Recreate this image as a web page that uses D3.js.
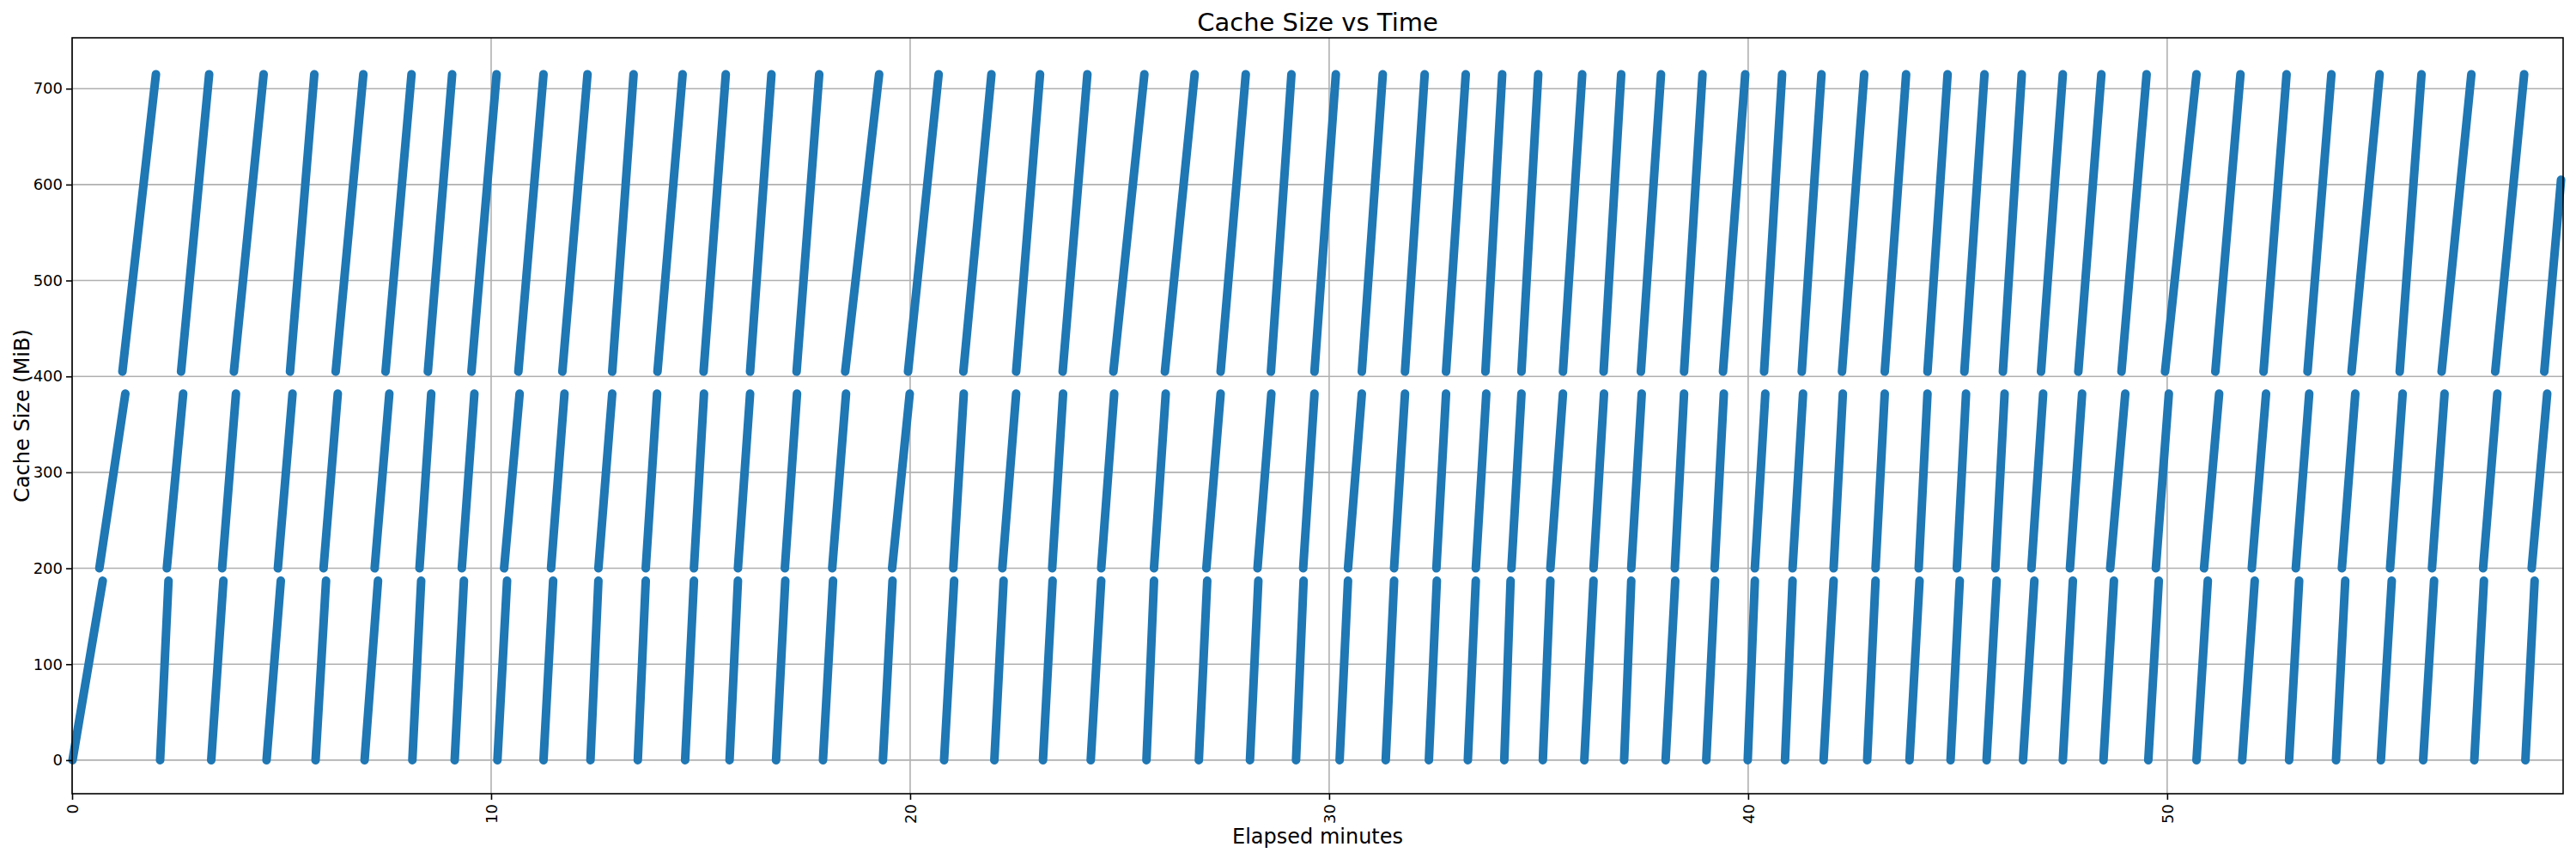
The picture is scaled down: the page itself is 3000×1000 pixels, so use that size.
<!DOCTYPE html>
<html>
<head>
<meta charset="utf-8">
<script src="https://cdn.jsdelivr.net/npm/d3@7"></script>
<style>
  body { margin: 0; background: #fff; }
  text { font-family: "DejaVu Sans", sans-serif; }
</style>
</head>
<body>
<script>
// each fill cycle rises through three bands: low, mid, high (MiB)
var bandLow = [0, 187];
var bandMid = [200, 382];
var bandHigh = [405, 715];
var lastHighValue = 605; // final cycle is cut off by the right edge

// elapsed minutes where each band starts / ends per cycle
var lowStart  = [0.01,2.10,3.32,4.64,5.81,6.98,8.12,9.13,10.15,11.25,12.37,13.50,14.63,15.69,16.80,17.92,19.35,20.81,22.01,23.17,24.31,25.64,26.89,28.11,29.21,30.25,31.35,32.38,33.31,34.18,35.10,36.09,37.04,38.03,39.00,39.99,40.88,41.80,42.84,43.85,44.83,45.69,46.56,47.51,48.48,49.55,50.70,51.79,52.91,54.03,55.10,56.11,57.33,58.55];
var lowEnd    = [0.73,2.30,3.61,4.98,6.06,7.30,8.33,9.35,10.38,11.48,12.56,13.69,14.84,15.89,17.02,18.16,19.58,21.05,22.23,23.40,24.56,25.82,27.09,28.31,29.39,30.45,31.55,32.57,33.50,34.33,35.28,36.31,37.21,38.26,39.21,40.16,41.06,42.04,43.04,44.09,45.05,45.93,46.83,47.75,48.73,49.80,50.97,52.09,53.15,54.25,55.36,56.37,57.56,58.77];
var midStart  = [0.65,2.26,3.58,4.91,6.00,7.22,8.29,9.30,10.31,11.43,12.56,13.69,14.84,15.89,17.01,18.14,19.57,21.03,22.20,23.39,24.56,25.82,27.07,28.29,29.38,30.45,31.55,32.56,33.50,34.35,35.28,36.31,37.21,38.25,39.20,40.16,41.06,42.04,43.04,44.07,44.98,45.90,46.76,47.68,48.64,49.73,50.88,52.02,53.07,54.17,55.32,56.32,57.54,58.70];
var midEnd    = [1.27,2.65,3.91,5.26,6.34,7.57,8.57,9.60,10.68,11.75,12.89,13.96,15.08,16.18,17.30,18.47,19.99,21.28,22.53,23.65,24.87,26.10,27.41,28.62,29.65,30.78,31.81,32.79,33.75,34.59,35.58,36.56,37.46,38.47,39.42,40.41,41.31,42.26,43.26,44.28,45.20,46.12,47.04,47.97,49.00,50.04,51.24,52.36,53.39,54.49,55.62,56.62,57.88,59.07];
var highStart = [1.20,2.60,3.86,5.20,6.29,7.48,8.49,9.53,10.65,11.70,12.89,13.97,15.07,16.18,17.29,18.45,19.95,21.27,22.53,23.64,24.85,26.08,27.41,28.61,29.65,30.78,31.81,32.79,33.73,34.59,35.58,36.55,37.44,38.47,39.40,40.38,41.28,42.24,43.26,44.28,45.16,46.08,46.99,47.88,48.91,49.95,51.15,52.30,53.35,54.40,55.55,56.55,57.83,59.00];
var highEnd   = [2.00,3.27,4.57,5.78,6.95,8.10,9.07,10.13,11.25,12.30,13.40,14.57,15.60,16.69,17.83,19.26,20.68,21.94,23.10,24.23,25.59,26.79,28.01,29.10,30.16,31.28,32.28,33.26,34.13,34.99,36.04,36.97,37.92,38.91,39.93,40.81,41.75,42.77,43.77,44.76,45.64,46.53,47.51,48.43,49.51,50.70,51.75,52.85,53.92,55.07,56.07,57.26,58.52,59.40];

var xTicks = [0, 10, 20, 30, 40, 50];
var yTicks = [0, 100, 200, 300, 400, 500, 600, 700];

var W = 3000, H = 1000;
var m = { left: 84, right: 15, top: 44, bottom: 76 };

var svg = d3.select("body").append("svg")
  .attr("width", W).attr("height", H);

var x = d3.scaleLinear().domain([0, 59.45]).range([m.left, W - m.right]);
var y = d3.scaleLinear().domain([-35, 753]).range([H - m.bottom, m.top]);

// grid
svg.append("g").selectAll("line").data(xTicks).enter().append("line")
  .attr("x1", d => x(d)).attr("x2", d => x(d))
  .attr("y1", m.top).attr("y2", H - m.bottom)
  .attr("stroke", "#b0b0b0").attr("stroke-width", 1.6);
svg.append("g").selectAll("line").data(yTicks).enter().append("line")
  .attr("x1", m.left).attr("x2", W - m.right)
  .attr("y1", d => y(d)).attr("y2", d => y(d))
  .attr("stroke", "#b0b0b0").attr("stroke-width", 1.6);

// build ramps from the arrays
var ramps = [];
lowStart.forEach(function(s, i) {
  ramps.push([[s, bandLow[0]], [lowEnd[i], bandLow[1]]]);
  ramps.push([[midStart[i], bandMid[0]], [midEnd[i], bandMid[1]]]);
  var top = i === lowStart.length - 1 ? lastHighValue : bandHigh[1];
  ramps.push([[highStart[i], bandHigh[0]], [highEnd[i], top]]);
});

var line = d3.line().x(d => x(d[0])).y(d => y(d[1]));
svg.append("g").selectAll("path").data(ramps).enter().append("path")
  .attr("d", line)
  .attr("fill", "none")
  .attr("stroke", "#1f77b4")
  .attr("stroke-width", 10)
  .attr("stroke-linecap", "round");

// clip-free frame
svg.append("rect")
  .attr("x", m.left).attr("y", m.top)
  .attr("width", W - m.left - m.right).attr("height", H - m.top - m.bottom)
  .attr("fill", "none").attr("stroke", "#000").attr("stroke-width", 1.6);

// axes
var xAxis = svg.append("g")
  .attr("transform", "translate(0," + (H - m.bottom) + ")")
  .call(d3.axisBottom(x).tickValues(xTicks).tickSize(7).tickFormat(d3.format("d")));
xAxis.selectAll("text")
  .attr("transform", "rotate(-90)")
  .attr("x", -12).attr("y", 0).attr("dy", "0.35em")
  .style("text-anchor", "end")
  .style("font-size", "18px");

var yAxis = svg.append("g")
  .attr("transform", "translate(" + m.left + ",0)")
  .call(d3.axisLeft(y).tickValues(yTicks).tickSize(7));
yAxis.selectAll("text").style("font-size", "18px").attr("x", -11);

[xAxis, yAxis].forEach(function(a) {
  a.select(".domain").remove();
  a.selectAll("line").attr("stroke", "#000").attr("stroke-width", 1.6);
  a.selectAll("text").attr("fill", "#000").style("font-family", "DejaVu Sans");
});

svg.append("text")
  .attr("x", (m.left + W - m.right) / 2).attr("y", 36)
  .attr("text-anchor", "middle").style("font-size", "29px")
  .text("Cache Size vs Time");

svg.append("text")
  .attr("x", (m.left + W - m.right) / 2).attr("y", 982)
  .attr("text-anchor", "middle").style("font-size", "24px")
  .text("Elapsed minutes");

svg.append("text")
  .attr("transform", "translate(34," + ((m.top + H - m.bottom) / 2) + ") rotate(-90)")
  .attr("text-anchor", "middle").style("font-size", "24px")
  .text("Cache Size (MiB)");
</script>
</body>
</html>
